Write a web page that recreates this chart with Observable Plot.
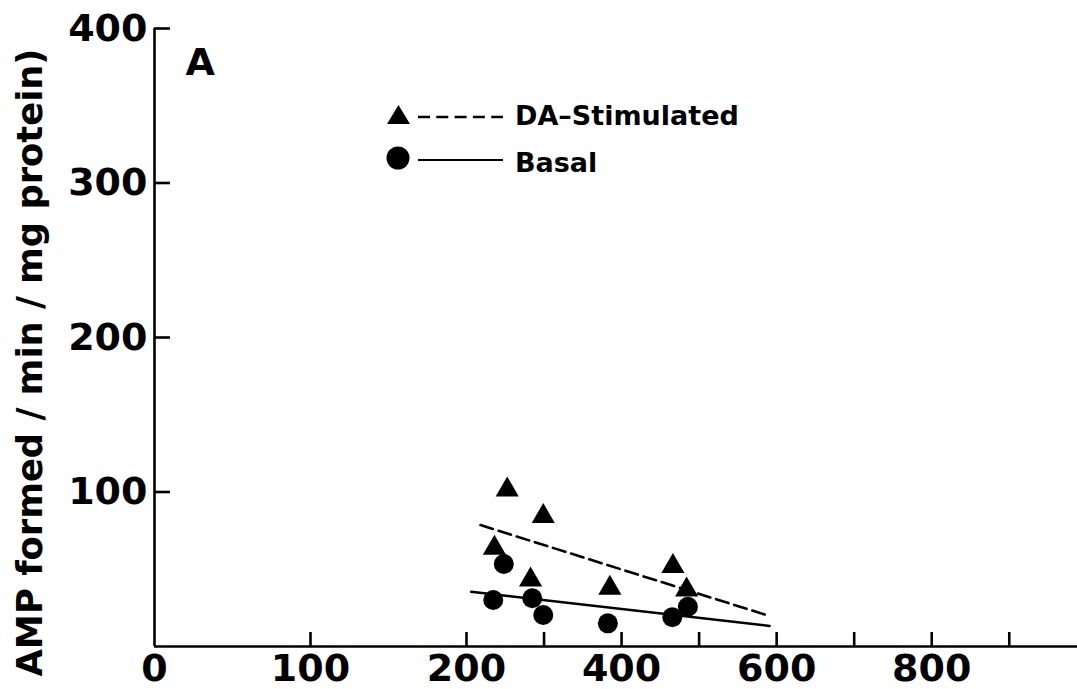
<!DOCTYPE html>
<html><head><meta charset="utf-8">
<script src="https://cdn.jsdelivr.net/npm/d3@7"></script>
<script src="https://cdn.jsdelivr.net/npm/@observablehq/plot@0.6"></script>
<style>
body{margin:0;background:#fff;}
#wrap{position:relative;width:1077px;height:689px;overflow:hidden;}
#legend{position:absolute;left:380px;top:95px;}
</style></head><body><div id="wrap"></div>
<script>
// DA-Stimulated (triangles)
const stimX = [252.5, 299, 236, 282.6, 384.9, 466.2, 483.9];
const stimY = [101.4, 84.2, 63.7, 43.2, 37.8, 51.9, 36.7];
// Basal (circles)
const basalX = [248.1, 234.5, 284.8, 299, 382.3, 465.4, 485.5];
const basalY = [53.4, 30.1, 31.2, 20.4, 15.0, 18.9, 25.7];
// regression lines
const stimFitX = [218, 591];
const stimFitY = [78.6, 19.7];
const basalFitX = [206, 591];
const basalFitY = [35.4, 13.3];
// axes
const yTicks = [100, 200, 300, 400];
const yTickLabels = [100, 200, 300, 400];
const xTicks = [100, 200, 300, 400, 500, 600, 700, 800, 900];
const xTickLabels = [0, 100, 200, 400, 600, 800];
const yLabel = "AMP formed / min / mg protein)";
const panelLabel = "A";
const legendNames = ["DA\u2013Stimulated", "Basal"];

const stim = stimX.map((x, i) => ({x, y: stimY[i]}));
const basal = basalX.map((x, i) => ({x, y: basalY[i]}));
const stimFit = stimFitX.map((x, i) => ({x, y: stimFitY[i]}));
const basalFit = basalFitX.map((x, i) => ({x, y: basalFitY[i]}));

const font = "'DejaVu Sans', sans-serif";
const plot = Plot.plot({
  width: 1077, height: 689,
  marginLeft: 154, marginRight: 0, marginTop: 28, marginBottom: 43,
  style: {fontFamily: font, fontWeight: "bold", background: "#fff", color: "#000", overflow: "visible"},
  x: {type: "linear", domain: [0, 200, 988], range: [154, 466, 1077], label: null},
  y: {domain: [0, 400], label: null},
  marks: [
    Plot.ruleX([0], {stroke: "#000", strokeWidth: 2.6}),
    Plot.ruleY([0], {stroke: "#000", strokeWidth: 2.6}),
    // inward ticks: draw outward ticks then shift them into the frame
    Plot.axisY(yTicks, {tickSize: 16, dx: 16, tickFormat: () => "", strokeWidth: 2.6, label: null}),
    Plot.axisY(yTickLabels, {tickSize: 0, tickPadding: 7, fontSize: 38, fontWeight: "bold", label: null}),
    Plot.axisX(xTicks, {tickSize: 14, dy: -14, tickFormat: () => "", strokeWidth: 2.6, label: null}),
    Plot.axisX(xTickLabels, {tickSize: 0, tickPadding: 8, fontSize: 38, fontWeight: "bold", label: null}),
    Plot.line(stimFit, {x: "x", y: "y", stroke: "#000", strokeWidth: 2.6, strokeDasharray: "13,6"}),
    Plot.line(basalFit, {x: "x", y: "y", stroke: "#000", strokeWidth: 2.4}),
    Plot.dot(stim, {x: "x", y: "y", symbol: "triangle", r: 8.6, fill: "#000", stroke: "none"}),
    Plot.dot(basal, {x: "x", y: "y", symbol: "circle", r: 10, fill: "#000", stroke: "none"}),
    Plot.text([panelLabel], {frameAnchor: "top-left", dx: 31, dy: 20, textAnchor: "start", lineAnchor: "top", fontSize: 38, fontWeight: "bold", fill: "#000"}),
    Plot.text([yLabel], {frameAnchor: "top-left", rotate: -90, textAnchor: "end", lineAnchor: "middle", dx: -123.5, dy: 20, fontSize: 35.3, fontWeight: "bold", fill: "#000"})
  ]
});
const wrap = document.getElementById("wrap");
wrap.appendChild(plot);

// legend
const ns = "http://www.w3.org/2000/svg";
const leg = document.createElementNS(ns, "svg");
leg.setAttribute("id", "legend");
leg.setAttribute("width", 380);
leg.setAttribute("height", 90);
leg.innerHTML = `
  <polygon points="7,29 30,29 18.5,10" fill="#000"/>
  <line x1="38" x2="123" y1="22" y2="22" stroke="#000" stroke-width="2.4" stroke-dasharray="12,6.3"/>
  <text x="135" y="30" font-family="${font.replace(/'/g, "")}" font-weight="bold" font-size="27">${legendNames[0]}</text>
  <circle cx="18" cy="63" r="11.5" fill="#000"/>
  <line x1="38" x2="123" y1="65" y2="65" stroke="#000" stroke-width="2.2"/>
  <text x="135" y="77" font-family="${font.replace(/'/g, "")}" font-weight="bold" font-size="27">${legendNames[1]}</text>`;
wrap.appendChild(leg);
</script></body></html>
